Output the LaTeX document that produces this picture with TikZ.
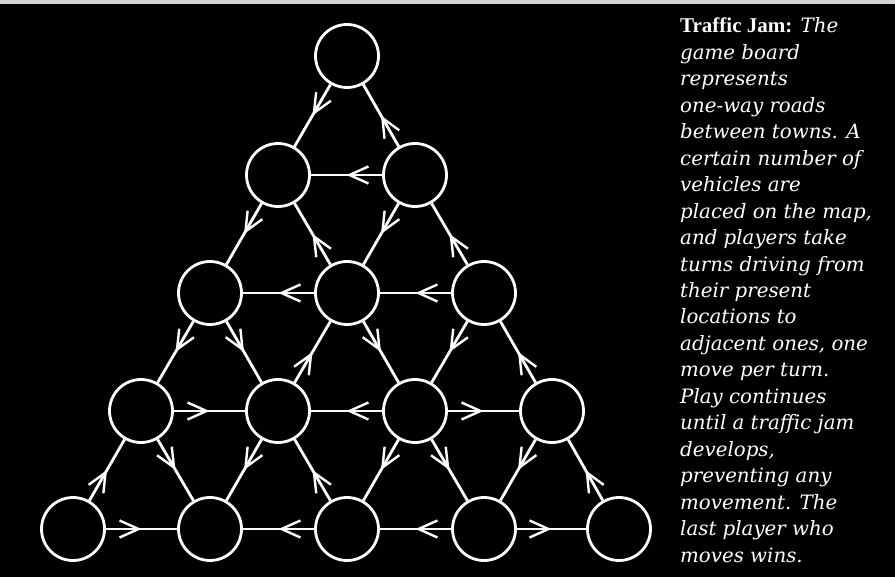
\documentclass[tikz,border=0pt]{standalone}
\usepackage{fontspec}
\setmainfont{Liberation Serif}
\newfontfamily\capfont{DejaVu Serif}
\newfontfamily\headfont{Liberation Serif}
\usetikzlibrary{arrows.meta,decorations.markings}
\tikzset{
  town/.style={circle, draw=white, line width=2.8pt, minimum size=63pt, inner sep=0pt},
  road/.style={draw=white, line width=2.8pt, postaction={decorate},
    decoration={markings, mark=at position 0.5 with {\arrow{Straight Barb[length=19pt,width=17pt,line width=2.4pt]}}}},
  captxt/.style={anchor=base west, inner sep=0pt, text=white, font=\capfont\itshape\fontsize{19.8}{20}\selectfont}
}
\begin{document}
\begin{tikzpicture}[x=1pt,y=-1pt]
\fill[black] (0,0) rectangle (895,577);
\fill[gray!35] (0,0) rectangle (895,4);
\useasboundingbox (0,0) rectangle (895,577);
% towns
\node[town] (r0c0) at (347,56) {};
\node[town] (r1c0) at (278,175) {};
\node[town] (r1c1) at (415,175) {};
\node[town] (r2c0) at (210,293) {};
\node[town] (r2c1) at (347,293) {};
\node[town] (r2c2) at (484,293) {};
\node[town] (r3c0) at (141,411) {};
\node[town] (r3c1) at (278,411) {};
\node[town] (r3c2) at (415,411) {};
\node[town] (r3c3) at (552,411) {};
\node[town] (r4c0) at (73,529) {};
\node[town] (r4c1) at (210,529) {};
\node[town] (r4c2) at (347,529) {};
\node[town] (r4c3) at (484,529) {};
\node[town] (r4c4) at (619,529) {};
% roads
\foreach \a/\b in {r0c0/r1c0, r1c1/r0c0, r1c1/r1c0,
  r1c0/r2c0, r2c1/r1c0, r1c1/r2c1, r2c2/r1c1, r2c1/r2c0, r2c2/r2c1,
  r2c0/r3c0, r2c0/r3c1, r3c1/r2c1, r2c1/r3c2, r2c2/r3c2, r3c3/r2c2,
  r3c0/r3c1, r3c2/r3c1, r3c2/r3c3,
  r4c0/r3c0, r3c0/r4c1, r3c1/r4c1, r4c2/r3c1, r3c2/r4c2, r3c2/r4c3,
  r3c3/r4c3, r4c4/r3c3, r4c0/r4c1, r4c2/r4c1, r4c3/r4c2, r4c3/r4c4}
  \draw[road] (\a) -- (\b);
% caption
\node[captxt] (t1) at (680,33) {{\headfont\bfseries\upshape\fontsize{21}{21}\selectfont Traffic Jam:} The};
\node[captxt] (t2) at (680,59.45) {game board};
\node[captxt] (t3) at (680,85.9) {represents};
\node[captxt] (t4) at (680,112.35) {one-way roads};
\node[captxt] (t5) at (680,138.8) {between towns. A};
\node[captxt] (t6) at (680,165.25) {certain number of};
\node[captxt] (t7) at (680,191.7) {vehicles are};
\node[captxt] (t8) at (680,218.15) {placed on the map,};
\node[captxt] (t9) at (680,244.6) {and players take};
\node[captxt] (t10) at (680,271.05) {turns driving from};
\node[captxt] (t11) at (680,297.5) {their present};
\node[captxt] (t12) at (680,323.95) {locations to};
\node[captxt] (t13) at (680,350.4) {adjacent ones, one};
\node[captxt] (t14) at (680,376.85) {move per turn.};
\node[captxt] (t15) at (680,403.3) {Play continues};
\node[captxt] (t16) at (680,429.75) {until a traffic jam};
\node[captxt] (t17) at (680,456.2) {develops,};
\node[captxt] (t18) at (680,482.65) {preventing any};
\node[captxt] (t19) at (680,509.1) {movement. The};
\node[captxt] (t20) at (680,535.55) {last player who};
\node[captxt] (t21) at (680,562) {moves wins.};
\end{tikzpicture}
\end{document}
